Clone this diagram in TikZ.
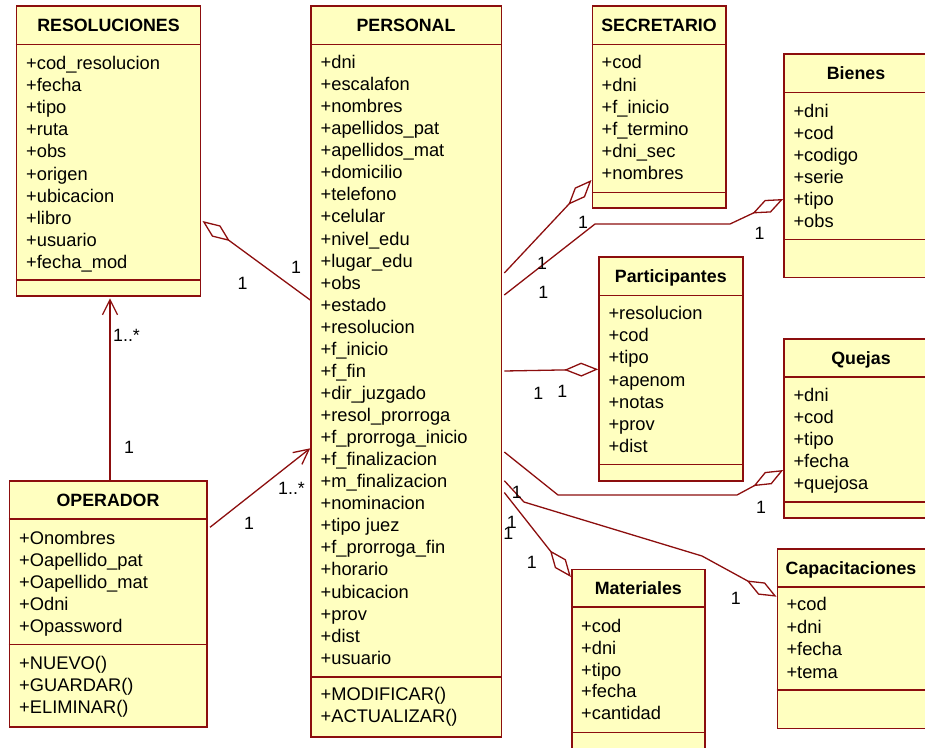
\documentclass[tikz,border=0pt]{standalone}
\usepackage{fontspec}
\setmainfont{Liberation Sans}
\usetikzlibrary{arrows.meta,calc,fit}

\definecolor{classfill}{RGB}{255,255,192}
\definecolor{classline}{RGB}{140,14,14}

\tikzset{
  classbox/.style={draw=classline, fill=classfill, line width=1.6pt, inner sep=0pt},
  sepline/.style={draw=classline, line width=1.6pt},
  title/.style={font=\fontsize{17.8}{20}\selectfont\bfseries, inner sep=0pt,
                text height=12.7pt, text depth=0pt},
  member/.style={font=\fontsize{18.3}{22}\selectfont, inner sep=0pt, anchor=west,
                 text height=13.1pt, text depth=0pt},
  mult/.style={font=\fontsize{17.8}{20}\selectfont, inner sep=0pt,
               text height=12.7pt, text depth=0pt},
  assoc/.style={draw=classline, line width=1.3pt},
  aggr/.style={assoc, -{Diamond[open, length=34pt, width=14pt]}},
  nav/.style={assoc, -{Straight Barb[length=15pt, width=15pt]}},
}

% class frame: name, x1, y1, x2, y2, compartment separators
\newcommand{\umlbox}[6]{%
  \node[classbox, fit={(#2,#3) (#4,#5)}] (#1) {};
  \foreach \s in {#6} \draw[sepline] (#1.west |- 0,\s) -- (#1.east |- 0,\s);
}
% compartment rows: name prefix, x, first row y, row step, entries
\newcommand{\umlrows}[5]{%
  \foreach \t [count=\i] in {#5} \node[member] (#1\i) at (#2, {#3+(\i-1)*#4}) {\t};
}

\begin{document}
\begin{tikzpicture}[x=1pt, y=-1pt]
\useasboundingbox (0,0) rectangle (925,747);
\clip (0,0) rectangle (925,747);

% ---------- RESOLUCIONES ----------
\umlbox{res}{16.5}{6}{200.5}{296}{44.3,280}
\node[title] (res-t) at (108.5,25.2) {RESOLUCIONES};
\umlrows{res-a}{26}{63}{22.1}{+cod\_resolucion,+fecha,+tipo,+ruta,+obs,+origen,+ubicacion,+libro,+usuario,+fecha\_mod}

% ---------- PERSONAL ----------
\umlbox{per}{311}{6}{501.5}{737}{44.3,677}
\node[title] (per-t) at (406,25.2) {PERSONAL};
\umlrows{per-a}{320.5}{62}{22.06}{+dni,+escalafon,+nombres,+apellidos\_pat,+apellidos\_mat,+domicilio,+telefono,+celular,+nivel\_edu,+lugar\_edu,+obs,+estado,+resolucion,+f\_inicio,+f\_fin,+dir\_juzgado,+resol\_prorroga,+f\_prorroga\_inicio,+f\_finalizacion,+m\_finalizacion,+nominacion,+tipo juez,+f\_prorroga\_fin,+horario,+ubicacion,+prov,+dist,+usuario}
\umlrows{per-o}{320.5}{694}{22.3}{+MODIFICAR(),+ACTUALIZAR()}

% ---------- SECRETARIO ----------
\umlbox{sec}{592.3}{6}{725.7}{207.7}{44.3,192.3}
\node[title] (sec-t) at (659,25.2) {SECRETARIO};
\umlrows{sec-a}{601.5}{62.3}{22.2}{+cod,+dni,+f\_inicio,+f\_termino,+dni\_sec,+nombres}

% ---------- Bienes ----------
\umlbox{bien}{784}{54}{930}{277.3}{92.3,239.3}
\node[title] (bien-t) at (856,73.2) {Bienes};
\umlrows{bien-a}{793.3}{111}{22}{+dni,+cod,+codigo,+serie,+tipo,+obs}

% ---------- Participantes ----------
\umlbox{part}{599}{256.7}{742.7}{480.7}{295.3,464.3}
\node[title] (part-t) at (670.8,276) {Participantes};
\umlrows{part-a}{608.3}{313.3}{22.07}{+resolucion,+cod,+tipo,+apenom,+notas,+prov,+dist}

% ---------- Quejas ----------
\umlbox{quej}{784}{339}{940}{517.7}{376.7,501.7}
\node[title] (quej-t) at (861,357.8) {Quejas};
\umlrows{quej-a}{793.3}{395}{22.1}{+dni,+cod,+tipo,+fecha,+quejosa}

% ---------- Capacitaciones ----------
\umlbox{cap}{777.3}{548.7}{950}{728.3}{586.7,690}
\node[title, anchor=west] (cap-t) at (785.5,567.7) {Capacitaciones};
\umlrows{cap-a}{786.3}{604.3}{22.4}{+cod,+dni,+fecha,+tema}

% ---------- Materiales ----------
\umlbox{mat}{571.7}{569.3}{705}{765}{606.7,732.3}
\node[title] (mat-t) at (638.3,588) {Materiales};
\umlrows{mat-a}{581}{625.7}{21.9}{+cod,+dni,+tipo,+fecha,+cantidad}

% ---------- OPERADOR ----------
\umlbox{oper}{9.3}{481}{206.7}{726.7}{519,644.3}
\node[title] (oper-t) at (108,500) {OPERADOR};
\umlrows{oper-a}{19}{537.7}{22}{+Onombres,+Oapellido\_pat,+Oapellido\_mat,+Odni,+Opassword}
\umlrows{oper-o}{19}{662.7}{22}{+NUEVO(),+GUARDAR(),+ELIMINAR()}

% ---------- associations ----------
\draw[aggr] (per.west |- 0,300) -- ($(res.east |- 0,221)+(1.2,0)$);
\draw[nav] (110,0 |- oper.north) -- ($(110,0 |- res.south)+(0,1.5)$);
\draw[nav] ($(oper.east |- 0,527.3)+(2.5,0)$) -- (per.west |- 0,448.3);
\draw[aggr] ($(per.east |- 0,273)+(2,0)$) -- (sec.west |- 0,180);
\draw[aggr] ($(per.east |- 0,295)+(2,0)$) -- (595,224) -- (730,224) -- (bien.west |- 0,199);
\draw[aggr] ($(per.east |- 0,371)+(2,0)$) -- (part.west |- 0,369.3);
\draw[aggr] ($(per.east |- 0,452)+(2,0)$) -- (558,495) -- (737,495) -- (quej.west |- 0,470);
\draw[aggr] ($(per.east |- 0,480.7)+(2,0)$) -- (524,502) -- (702,556) -- (cap.west |- 0,596.7);
\draw[aggr] ($(per.east |- 0,492.5)+(2,0)$) -- (mat.west |- 0,577);

% ---------- multiplicities ----------
\node[mult] (m1) at (296,267) {1};
\node[mult] (m2) at (242.5,283) {1};
\node[mult, anchor=west] (m3) at (113,335) {1..*};
\node[mult] (m4) at (129,447) {1};
\node[mult] (m5) at (249,523) {1};
\node[mult, anchor=west] (m6) at (278,488) {1..*};
\node[mult] (m7) at (542,263) {1};
\node[mult] (m8) at (543.3,292) {1};
\node[mult] (m9) at (583,222) {1};
\node[mult] (m10) at (759.5,233) {1};
\node[mult] (m11) at (538.3,393) {1};
\node[mult] (m12) at (562.3,391) {1};
\node[mult] (m13) at (761,507) {1};
\node[mult] (m14) at (516.7,491.7) {1};
\node[mult] (m15) at (511.7,521.7) {1};
\node[mult] (m16) at (508.3,533.3) {1};
\node[mult] (m17) at (531.7,561.7) {1};
\node[mult] (m18) at (735.7,598.3) {1};
\end{tikzpicture}
\end{document}
